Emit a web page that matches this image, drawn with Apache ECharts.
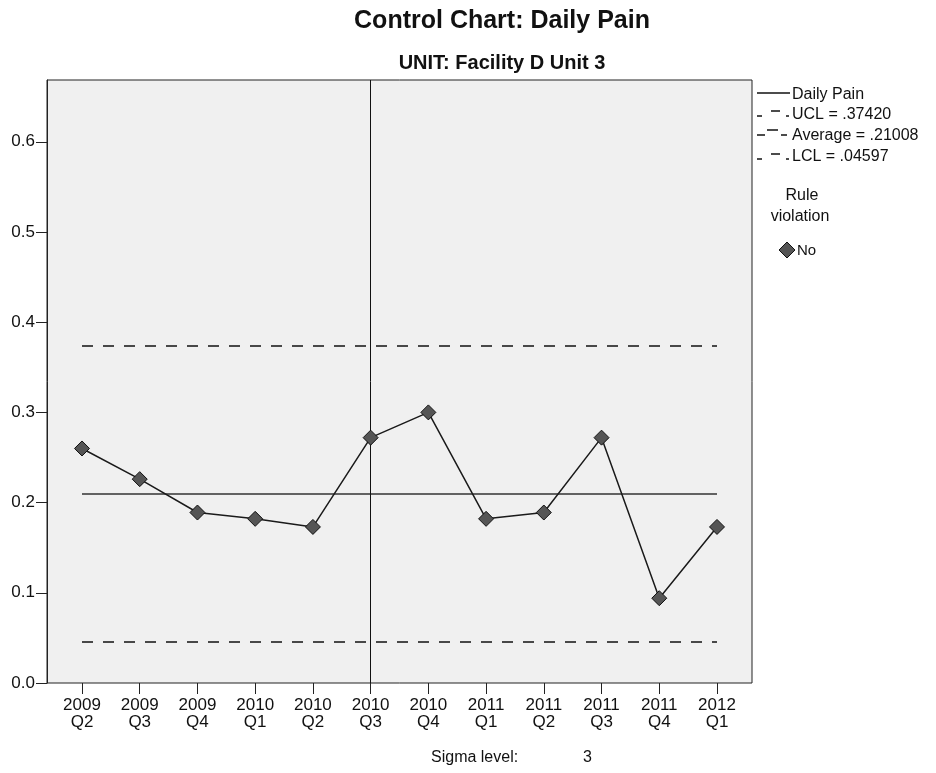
<!DOCTYPE html>
<html>
<head>
<meta charset="utf-8">
<script src="https://cdn.jsdelivr.net/npm/echarts@6/dist/echarts.min.js"></script>
<style>html,body{margin:0;padding:0;background:#fff;}#c{width:936px;height:773px;}</style>
</head>
<body>
<div id="c"></div>
<script>
const categories = ['2009\nQ2','2009\nQ3','2009\nQ4','2010\nQ1','2010\nQ2','2010\nQ3','2010\nQ4','2011\nQ1','2011\nQ2','2011\nQ3','2011\nQ4','2012\nQ1'];
const dailyPain = [0.260, 0.226, 0.189, 0.182, 0.173, 0.272, 0.300, 0.182, 0.189, 0.272, 0.094, 0.173];
const UCL = 0.37420;
const AVERAGE = 0.21008;
const LCL = 0.04597;
const phaseSplit = '2010\nQ3';
const yMin = 0, yMax = 0.6685;
const yTickValues = [0, 0.1, 0.2, 0.3, 0.4, 0.5, 0.6];
const legendLabels = ['Daily Pain', 'UCL = .37420', 'Average = .21008', 'LCL = .04597'];
const sigmaLevel = '3';

const FONT = '"Liberation Sans", Arial, sans-serif';
const chart = echarts.init(document.getElementById('c'), null, {renderer: 'canvas'});

function seg(x1, y1, x2, y2) {
  return {type: 'line', shape: {x1, y1, x2, y2}, style: {stroke: '#111', lineWidth: 1.5}};
}
function txt(x, y, t, opts) {
  return {type: 'text', x, y, style: Object.assign({text: t, font: '16px ' + FONT, fill: '#111', textAlign: 'left', textVerticalAlign: 'middle'}, opts || {})};
}
const lx = 757, ly = [95, 115, 136, 157];
const graphics = [
  txt(502, 21, 'Control Chart: Daily Pain', {font: 'bold 25px ' + FONT, textAlign: 'center'}),
  txt(502, 63, 'UNIT: Facility D Unit 3', {font: 'bold 20px ' + FONT, textAlign: 'center'}),
  seg(lx, ly[0] - 2, lx + 33, ly[0] - 2),
  txt(792, ly[0], legendLabels[0]),
  seg(lx, ly[1] + 1, lx + 5, ly[1] + 1), seg(lx + 14, ly[1] - 4, lx + 23, ly[1] - 4), seg(lx + 29, ly[1] + 1, lx + 32, ly[1] + 1),
  txt(792, ly[1], legendLabels[1]),
  seg(lx, ly[2] - 1, lx + 8, ly[2] - 1), seg(lx + 10, ly[2] - 6, lx + 21, ly[2] - 6), seg(lx + 24, ly[2] - 1, lx + 30, ly[2] - 1),
  txt(792, ly[2], legendLabels[2]),
  seg(lx, ly[3] + 2, lx + 5, ly[3] + 2), seg(lx + 14, ly[3] - 3, lx + 23, ly[3] - 3), seg(lx + 29, ly[3] + 2, lx + 32, ly[3] + 2),
  txt(792, ly[3], legendLabels[3]),
  txt(802, 196, 'Rule', {textAlign: 'center'}),
  txt(800, 217, 'violation', {textAlign: 'center'}),
  {type: 'polygon', shape: {points: [[787, 242], [795, 250], [787, 258], [779, 250]]}, style: {fill: '#555', stroke: '#111', lineWidth: 1}},
  txt(797, 251, 'No', {font: '15px ' + FONT}),
  txt(431, 758, 'Sigma level:'),
  txt(583, 758, sigmaLevel)
];

const option = {
  animation: false,
  backgroundColor: '#fff',
  textStyle: {fontFamily: FONT},
  graphic: graphics,
  grid: [
    {left: 82, right: 219, top: 80, bottom: 90, show: false, z: 3},
    {left: 47, right: 184, top: 80, bottom: 90, show: true, backgroundColor: '#f0f0f0', borderColor: '#222', borderWidth: 1, z: 0}
  ],
  xAxis: [
    {type: 'category', gridIndex: 0, data: categories, boundaryGap: false,
     axisLine: {show: false},
     axisTick: {show: true, inside: false, length: 11, lineStyle: {color: '#222'}},
     axisLabel: {show: true, margin: 14, color: '#111', fontSize: 17, lineHeight: 17, fontFamily: FONT, interval: 0},
     splitLine: {show: false}},
    {type: 'value', gridIndex: 1, show: false}
  ],
  yAxis: [
    {type: 'value', gridIndex: 0, min: yMin, max: yMax, show: false, splitLine: {show: false}},
    {type: 'value', gridIndex: 1, min: yMin, max: yMax,
     axisLine: {show: true, lineStyle: {color: '#222'}},
     axisTick: {show: true, length: 11, customValues: yTickValues, lineStyle: {color: '#222'}},
     axisLabel: {margin: 12, color: '#111', fontSize: 17, fontFamily: FONT, customValues: yTickValues, formatter: v => v.toFixed(1)},
     splitLine: {show: false}}
  ],
  series: [
    {name: 'Daily Pain', type: 'line', xAxisIndex: 0, yAxisIndex: 0, data: dailyPain,
     symbol: 'diamond', symbolSize: [15, 15], showAllSymbol: true,
     lineStyle: {color: '#1a1a1a', width: 1.5},
     itemStyle: {color: '#555', borderColor: '#111', borderWidth: 1},
     z: 5,
     markLine: {
       silent: true, symbol: 'none', label: {show: false}, animation: false,
       data: [
         [{coord: [categories[0], UCL], lineStyle: {type: [11, 10], color: '#111', width: 1.5}}, {coord: [categories[categories.length - 1], UCL]}],
         [{coord: [categories[0], AVERAGE], lineStyle: {type: 'solid', color: '#333', width: 1.5}}, {coord: [categories[categories.length - 1], AVERAGE]}],
         [{coord: [categories[0], LCL], lineStyle: {type: [11, 10], color: '#111', width: 1.5}}, {coord: [categories[categories.length - 1], LCL]}],
         {xAxis: phaseSplit, lineStyle: {type: 'solid', color: '#111', width: 1}}
       ]
     }}
  ]
};
chart.setOption(option);
</script>
</body>
</html>
